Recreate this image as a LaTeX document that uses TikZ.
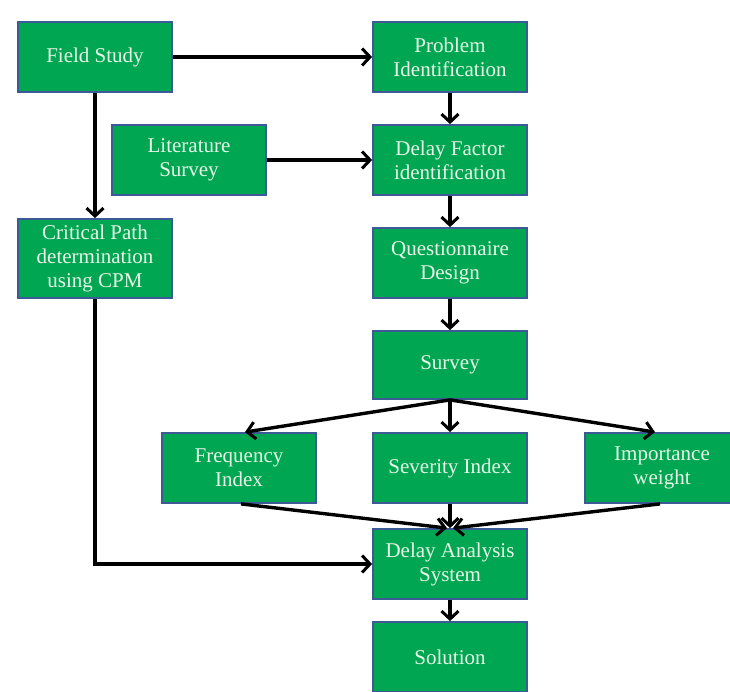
\documentclass[tikz,border=0pt]{standalone}
\usepackage{fontspec}
\setmainfont{Liberation Serif}
\usetikzlibrary{arrows.meta}
\definecolor{boxgreen}{RGB}{0,166,81}
\definecolor{boxedge}{RGB}{60,90,150}
\definecolor{boxtext}{RGB}{232,246,232}
\tikzset{
  fbox/.style={draw=boxedge, line width=1.8pt, fill=boxgreen, text=boxtext,
    minimum width=154pt, minimum height=70pt, align=center, inner sep=2pt,
    font=\fontsize{21}{24}\selectfont},
  conn/.style={line width=3.4pt, -{Straight Barb[length=8pt,width=17pt,line width=3pt]}}
}
\begin{document}
\begin{tikzpicture}[x=1pt,y=-1pt]
\useasboundingbox[fill=white] (0,0) rectangle (730,692);
\clip (0,0) rectangle (730,692);
\node[fbox] (field) at (95,57) {Field Study};
\node[fbox] (prob) at (450,57) {Problem\\Identification};
\node[fbox] (lit) at (189,160) {Literature\\Survey};
\node[fbox] (dfi) at (450,160) {Delay Factor\\identification};
\node[fbox, minimum height=79pt] (cpm) at (95,258.5) {Critical Path\\determination\\using CPM};
\node[fbox] (quest) at (450,263) {Questionnaire\\Design};
\node[fbox, minimum height=68pt] (survey) at (450,365) {Survey};
\node[fbox] (freq) at (239,468) {Frequency\\Index};
\node[fbox] (sev) at (450,468) {Severity Index};
\node[fbox] (imp) at (662,468) {Importance\\weight};
\node[fbox] (das) at (450,564) {Delay Analysis\\System};
\node[fbox] (sol) at (450,657) {Solution};
\draw[conn] (field.east) -- (prob.west);
\draw[conn] (field.south) -- (cpm.north);
\draw[conn] (prob.south) -- (dfi.north);
\draw[conn] (lit.east) -- (dfi.west);
\draw[conn] (dfi.south) -- (quest.north);
\draw[conn] (quest.south) -- (survey.north);
\draw[conn] (survey.south) -- (sev.north);
\draw[conn] (survey.south) -- ([xshift=6pt]freq.north);
\draw[conn] (survey.south) -- ([xshift=-7pt]imp.north);
\draw[conn] ([xshift=2pt]freq.south) -- ([xshift=-3pt]das.north);
\draw[conn] (sev.south) -- (das.north);
\draw[conn] ([xshift=-2pt]imp.south) -- ([xshift=3pt]das.north);
\draw[conn] (cpm.south) |- (das.west);
\draw[conn] (das.south) -- (sol.north);
\end{tikzpicture}
\end{document}
